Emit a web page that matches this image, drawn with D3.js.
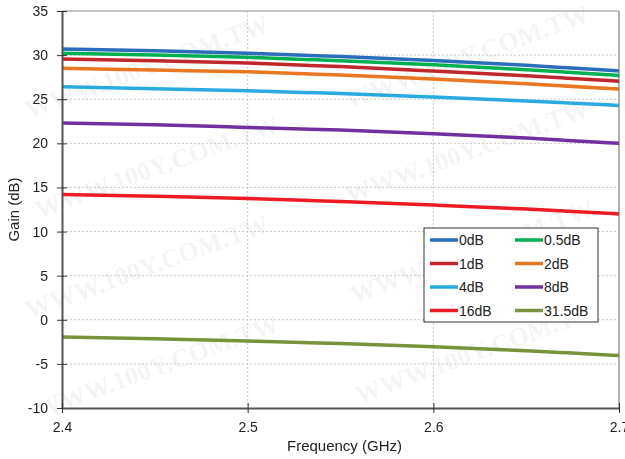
<!DOCTYPE html>
<html>
<head>
<meta charset="utf-8">
<script src="https://cdn.jsdelivr.net/npm/d3@7"></script>
<style>
  body { margin: 0; background: #fff; }
  svg { display: block; font-family: "Liberation Sans", Arial, sans-serif; }
</style>
</head>
<body>
<svg id="chart" width="625" height="459"></svg>
<script>
// frequency points (GHz)
const freqs = [2.4, 2.45, 2.5, 2.55, 2.6, 2.65, 2.7];
const xTicks = [2.4, 2.5, 2.6, 2.7];
const yTicks = [-10, -5, 0, 5, 10, 15, 20, 25, 30, 35];

// gain per attenuation state (dB)
const gain0 = [30.7, 30.5, 30.2, 29.85, 29.4, 28.85, 28.2];
const gain05 = [30.2, 30.0, 29.75, 29.35, 28.9, 28.35, 27.7];
const gain1 = [29.55, 29.35, 29.1, 28.7, 28.2, 27.65, 27.05];
const gain2 = [28.5, 28.3, 28.1, 27.75, 27.3, 26.75, 26.15];
const gain4 = [26.4, 26.2, 25.95, 25.65, 25.25, 24.8, 24.3];
const gain8 = [22.3, 22.1, 21.8, 21.5, 21.1, 20.6, 20.0];
const gain16 = [14.2, 14.0, 13.75, 13.4, 13.0, 12.55, 12.0];
const gain315 = [-1.95, -2.15, -2.4, -2.7, -3.05, -3.5, -4.05];

const seriesNames = ["0dB", "0.5dB", "1dB", "2dB", "4dB", "8dB", "16dB", "31.5dB"];
const seriesValues = [gain0, gain05, gain1, gain2, gain4, gain8, gain16, gain315];
const colors = ["#2a6ebb", "#00b050", "#c0272d", "#e87722", "#29abe2", "#7030a0", "#ed1c24", "#77933c"];

const svg = d3.select("#chart");
const margin = { top: 11, right: 6, bottom: 51, left: 62 };
const width = 625, height = 459;

const x = d3.scaleLinear().domain([2.4, 2.7]).range([margin.left, width - margin.right]);
const y = d3.scaleLinear().domain([-10, 35]).range([height - margin.bottom, margin.top]);

// faint watermark
const wm = svg.append("g").attr("fill", "#000").attr("opacity", 0.045)
  .style("font-family", "'Liberation Serif', serif").style("font-weight", "bold").style("font-size", "26px");
const wmSpots = [[150, 75], [470, 65], [160, 175], [470, 160], [150, 275], [475, 260], [160, 375], [480, 360]];
wmSpots.forEach(([px, py]) => {
  wm.append("text").attr("transform", `translate(${px},${py}) rotate(-20)`)
    .attr("text-anchor", "middle").text("WWW.100Y.COM.TW");
});

// grid
svg.append("g").selectAll("line").data(yTicks.slice(1, -1)).join("line")
  .attr("x1", margin.left).attr("x2", width - margin.right)
  .attr("y1", d => y(d)).attr("y2", d => y(d))
  .attr("stroke", "#c8c8c8").attr("stroke-width", 1).attr("stroke-dasharray", "2,2");
svg.append("g").selectAll("line").data([2.5, 2.6]).join("line")
  .attr("x1", d => x(d)).attr("x2", d => x(d))
  .attr("y1", margin.top).attr("y2", height - margin.bottom)
  .attr("stroke", "#c8c8c8").attr("stroke-width", 1).attr("stroke-dasharray", "2,2");

// top and right borders
svg.append("line").attr("x1", margin.left).attr("x2", width - margin.right)
  .attr("y1", y(35)).attr("y2", y(35)).attr("stroke", "#b0b0b0").attr("stroke-width", 1.5);
svg.append("line").attr("x1", x(2.7)).attr("x2", x(2.7))
  .attr("y1", margin.top).attr("y2", height - margin.bottom).attr("stroke", "#b0b0b0").attr("stroke-width", 2);

// lines
const line = d3.line().x((d, i) => x(freqs[i])).y(d => y(d)).curve(d3.curveMonotoneX);
svg.append("g").selectAll("path").data(seriesValues).join("path")
  .attr("d", line).attr("fill", "none")
  .attr("stroke", (d, i) => colors[i]).attr("stroke-width", 3.5);

// axes
const yAxis = svg.append("g").attr("transform", `translate(${margin.left},0)`)
  .call(d3.axisLeft(y).tickValues(yTicks).tickFormat(d => String(d)).tickSizeInner(5).tickSizeOuter(0).tickPadding(9));
yAxis.selectAll(".tick line").attr("x2", 5).attr("x1", -5);
const xAxis = svg.append("g").attr("transform", `translate(0,${height - margin.bottom})`)
  .call(d3.axisBottom(x).tickValues(xTicks).tickFormat(d3.format(".1f")).tickSizeInner(5).tickSizeOuter(0).tickPadding(9));
xAxis.selectAll(".tick line").attr("y1", -5).attr("y2", 5);
[yAxis, xAxis].forEach(a => {
  a.select(".domain").attr("stroke", "#555").attr("stroke-width", 2);
  a.selectAll(".tick line").attr("stroke", "#333");
  a.selectAll("text").style("font-size", "14px").attr("fill", "#222")
    .style("font-family", "'Liberation Sans', Arial, sans-serif");
});

svg.append("text").attr("transform", `translate(19,${(margin.top + height - margin.bottom) / 2}) rotate(-90)`)
  .attr("text-anchor", "middle").style("font-size", "15px").attr("fill", "#222").text("Gain (dB)");
svg.append("text").attr("x", (margin.left + width - margin.right) / 2 + 4).attr("y", 451)
  .attr("text-anchor", "middle").style("font-size", "15px").attr("fill", "#222").text("Frequency (GHz)");

// legend
const lg = svg.append("g").attr("transform", "translate(424,228)");
lg.append("rect").attr("width", 174).attr("height", 94).attr("fill", "#fff")
  .attr("stroke", "#333").attr("stroke-width", 1);
seriesNames.forEach((name, i) => {
  const col = i % 2, row = Math.floor(i / 2);
  const gx = 6 + col * 85, gy = 12 + row * 23.5;
  lg.append("line").attr("x1", gx).attr("x2", gx + 28).attr("y1", gy).attr("y2", gy)
    .attr("stroke", colors[i]).attr("stroke-width", 3.5);
  lg.append("text").attr("x", gx + 29).attr("y", gy + 5)
    .style("font-size", "14px").attr("fill", "#222").text(name);
});
</script>
</body>
</html>
